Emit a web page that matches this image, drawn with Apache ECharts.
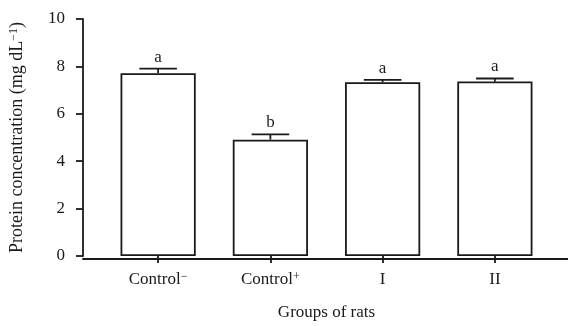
<!DOCTYPE html>
<html>
<head>
<meta charset="utf-8">
<script src="https://cdn.jsdelivr.net/npm/echarts@6/dist/echarts.min.js"></script>
<style>
  html, body { margin: 0; padding: 0; background: #fff; }
  #chart { width: 568px; height: 326px; }
</style>
</head>
<body>
<div id="chart"></div>
<script>
// data
var groups = ['Control−', 'Control+', 'I', 'II'];
var means = [7.71, 4.91, 7.33, 7.36];
var errors = [0.2, 0.22, 0.1, 0.13];
var letters = ['a', 'b', 'a', 'a'];
var yTicks = [0, 2, 4, 6, 8, 10];

var font = '"Liberation Serif", "Times New Roman", serif';
var ink = '#1a1a1a';

var chart = echarts.init(document.getElementById('chart'));

// category label with the +/- written as superscript
function catLabel(v) {
  var m = v.match(/^Control([−+])$/);
  if (m) {
    return 'Control{sup|' + m[1] + '}';
  }
  return v;
}

var supStyle = { fontSize: 12, fontFamily: font, color: ink, verticalAlign: 'top', lineHeight: 12, padding: [0, 0, 8, 0] };

var option = {
  animation: false,
  backgroundColor: '#fff',
  grid: [
    { left: 102, right: 17, top: 19, bottom: 67 },
    { left: 83, right: 0, top: 19, bottom: 67 }
  ],
  xAxis: [
    {
      type: 'category',
      gridIndex: 0,
      data: groups,
      axisLine: { show: false },
      axisTick: { show: true, alignWithLabel: true, length: 7, lineStyle: { color: ink, width: 1.8 } },
      axisLabel: {
        interval: 0,
        margin: 15,
        formatter: catLabel,
        color: ink,
        fontFamily: font,
        fontSize: 17,
        rich: { sup: supStyle }
      },
      name: 'Groups of rats',
      nameLocation: 'middle',
      nameGap: 48,
      nameTextStyle: { color: ink, fontFamily: font, fontSize: 17 }
    },
    {
      type: 'value',
      gridIndex: 1,
      min: 0,
      max: 1,
      axisLine: { show: true, lineStyle: { color: ink, width: 1.8 } },
      axisTick: { show: false },
      axisLabel: { show: false },
      splitLine: { show: false }
    }
  ],
  yAxis: [
    {
      type: 'value',
      gridIndex: 0,
      min: 0,
      max: 10,
      interval: 2,
      offset: 19,
      axisLine: { show: true, lineStyle: { color: ink, width: 1.8 } },
      axisTick: { show: true, length: 7, lineStyle: { color: ink, width: 1.8 } },
      axisLabel: {
        margin: 18,
        color: ink,
        fontFamily: font,
        fontSize: 17,
        formatter: function (v) { return yTicks.indexOf(v) > -1 ? String(v) : ''; }
      },
      splitLine: { show: false },
      name: 'Protein concentration (mg dL{sup|−1})',
      nameLocation: 'middle',
      nameGap: 57,
      nameTextStyle: {
        color: ink,
        fontFamily: font,
        fontSize: 18,
        rich: { sup: supStyle }
      }
    },
    {
      type: 'value',
      gridIndex: 1,
      show: false,
      min: 0,
      max: 10
    }
  ],
  series: [
    {
      type: 'bar',
      xAxisIndex: 0,
      yAxisIndex: 0,
      data: means,
      barWidth: '67%',
      itemStyle: { color: '#fff', borderColor: ink, borderWidth: 1.8 },
      z: 2
    },
    {
      type: 'custom',
      xAxisIndex: 0,
      yAxisIndex: 0,
      z: 3,
      data: groups.map(function (g, i) { return [i, means[i], errors[i], letters[i]]; }),
      renderItem: function (params, api) {
        var i = api.value(0);
        var m = api.value(1);
        var e = api.value(2);
        var base = api.coord([i, m]);
        var top = api.coord([i, m + e]);
        var half = api.size([1, 0])[0] * 0.67 / 4;
        var st = { stroke: ink, lineWidth: 1.8 };
        return {
          type: 'group',
          children: [
            { type: 'line', shape: { x1: base[0], y1: base[1], x2: top[0], y2: top[1] }, style: st },
            { type: 'line', shape: { x1: top[0] - half, y1: top[1], x2: top[0] + half, y2: top[1] }, style: st },
            {
              type: 'text',
              style: {
                x: top[0], y: top[1] - 3,
                text: letters[params.dataIndex],
                align: 'center', verticalAlign: 'bottom',
                fill: ink, font: '17px ' + font
              }
            }
          ]
        };
      }
    }
  ]
};

chart.setOption(option);
</script>
</body>
</html>
